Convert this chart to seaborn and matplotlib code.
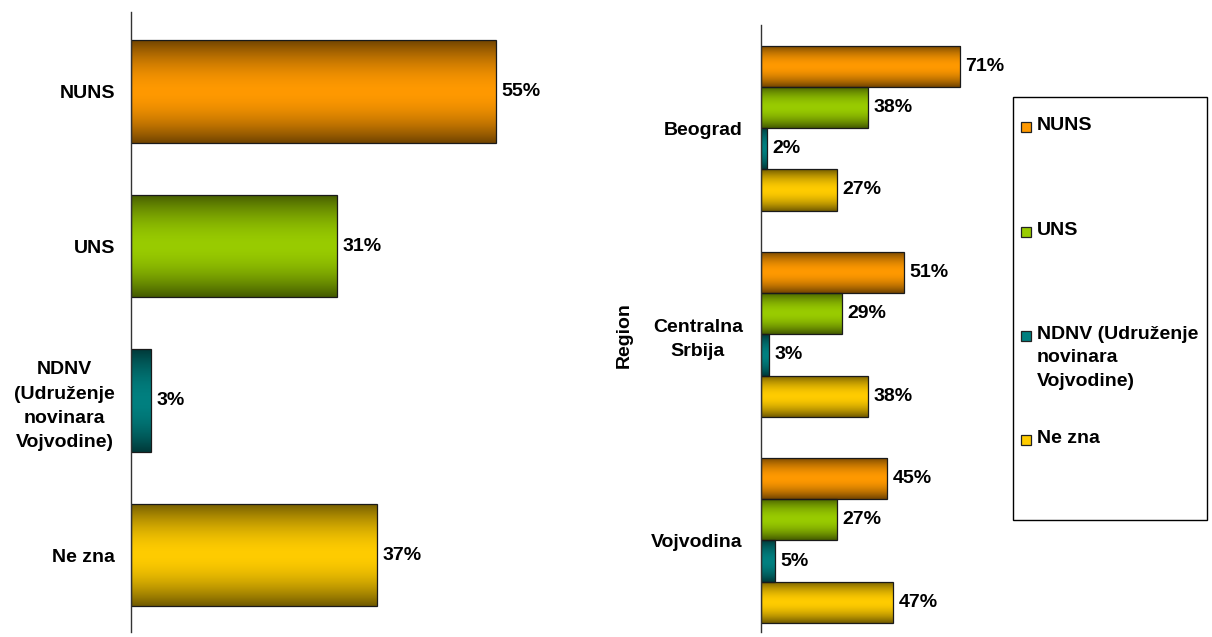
import numpy as np
import pandas as pd
import matplotlib
matplotlib.use('Agg')
import matplotlib.pyplot as plt
from matplotlib.colors import to_rgb
from matplotlib.patches import Rectangle
import seaborn as sns

# data
groups = ['NUNS', 'UNS', 'NDNV', 'Ne zna']
group_ticks = ['NUNS', 'UNS', 'NDNV\n(Udruženje\nnovinara\nVojvodine)', 'Ne zna']
legend_names = ['NUNS', 'UNS', 'NDNV (Udruženje\nnovinara\nVojvodine)', 'Ne zna']
total = [55, 31, 3, 37]

regions = ['Beograd', 'Centralna\nSrbija', 'Vojvodina']
nuns = [71, 51, 45]
uns = [38, 29, 27]
ndnv = [2, 3, 5]
ne_zna = [27, 38, 47]

colors = ['#FF9900', '#99CC00', '#008080', '#FFCC00']

sns.set_style('white')
plt.rcParams['font.family'] = ['Liberation Sans', 'DejaVu Sans']
plt.rcParams['font.weight'] = 'bold'
plt.rcParams['text.color'] = 'black'
plt.rcParams['ytick.color'] = 'black'
plt.rcParams['axes.labelcolor'] = 'black'
FS = 14

df1 = pd.DataFrame({'grp': groups, 'val': total})
rows = []
for i, r in enumerate(regions):
    for g, vals in zip(groups, [nuns, uns, ndnv, ne_zna]):
        rows.append({'Region': r, 'grp': g, 'val': vals[i]})
df2 = pd.DataFrame(rows)

W, H = 1212, 637
fig = plt.figure(figsize=(W / 100, H / 100), dpi=100)
ax1 = fig.add_axes([131 / W, 1 - 632 / H, 429 / W, 620 / H])
ax2 = fig.add_axes([761 / W, 1 - 632 / H, 239 / W, 607 / H])

pal = dict(zip(groups, colors))
sns.barplot(data=df1, y='grp', x='val', hue='grp', order=groups, hue_order=groups,
            palette=pal, width=0.665, orient='h', legend=False, ax=ax1)
sns.barplot(data=df2, y='Region', x='val', hue='grp', order=regions, hue_order=groups,
            palette=pal, width=0.8, orient='h', legend=False, ax=ax2)


# shaded bars: dark at both long edges, bright in the middle
def shade(ax):
    u = np.linspace(0, 1, 80)
    f = 0.45 + 0.55 * (1 - np.abs(2 * u - 1) ** 1.8)
    for cont, col in zip(ax.containers, colors):
        base = np.array(to_rgb(col))
        img = (base[None, :] * f[:, None])[:, None, :]
        for p in cont:
            x0, y0 = p.get_x(), p.get_y()
            w, h = p.get_width(), p.get_height()
            if w == 0 or np.isnan(w):
                continue
            im = ax.imshow(img, extent=[x0, x0 + w, y0 + h, y0], aspect='auto',
                           interpolation='bilinear', zorder=1.5)
            im.set_clip_path(p)
            p.set_facecolor('none')
            p.set_edgecolor('#1a1a1a')
            p.set_linewidth(0.9)
            p.set_zorder(2)
        ax.bar_label(cont, labels=[f'{v:.0f}%' for v in cont.datavalues],
                     padding=4, fontsize=FS, fontweight='bold', color='black')


shade(ax1)
shade(ax2)

ax1.set_xlim(0, 64.65)
ax1.set_ylim(3.498, -0.515)
ax2.set_xlim(0, 85.27)
ax2.set_ylim(2.444, -0.5)

for ax, pad in [(ax1, 11.5), (ax2, 13)]:
    sns.despine(ax=ax, bottom=True)
    ax.spines['left'].set_color('#333333')
    ax.spines['left'].set_linewidth(1)
    ax.set_xticks([])
    ax.set_xlabel('')
    ax.set_ylabel('')
    ax.tick_params(axis='y', length=0, pad=pad, labelsize=FS, labelcolor='black')
    ax.patch.set_alpha(0)

ax1.set_yticks(range(len(groups)))
ax1.set_yticklabels(group_ticks, fontweight='bold', linespacing=1.55)
ax2.set_yticks(range(len(regions)))
ax2.set_yticklabels(regions, fontweight='bold', linespacing=1.55)
for ax in (ax1, ax2):
    for lab in ax.get_yticklabels():
        lab.set_multialignment('center')

ax2.set_ylabel('Region', fontsize=FS, fontweight='bold', color='black')
ax2.yaxis.set_label_coords((633 - 761) / 239, (632 - 335) / 607)

# legend box
fig.add_artist(Rectangle((1013 / W, 1 - 520 / H), 194 / W, 423 / H,
                         transform=fig.transFigure, fill=False,
                         edgecolor='black', lw=1))
leg_y = [127, 232, 336, 440]
for name, col, y in zip(legend_names, colors, leg_y):
    fig.add_artist(Rectangle((1021 / W, 1 - (y + 5) / H), 10 / W, 10 / H,
                             transform=fig.transFigure, facecolor=col,
                             edgecolor='#222222', lw=0.9))
    fig.text(1037 / W, 1 - (y - 10) / H, name, fontsize=FS, fontweight='bold',
             ha='left', va='top', linespacing=1.5, color='black')

fig.savefig('out.png', dpi=100)
